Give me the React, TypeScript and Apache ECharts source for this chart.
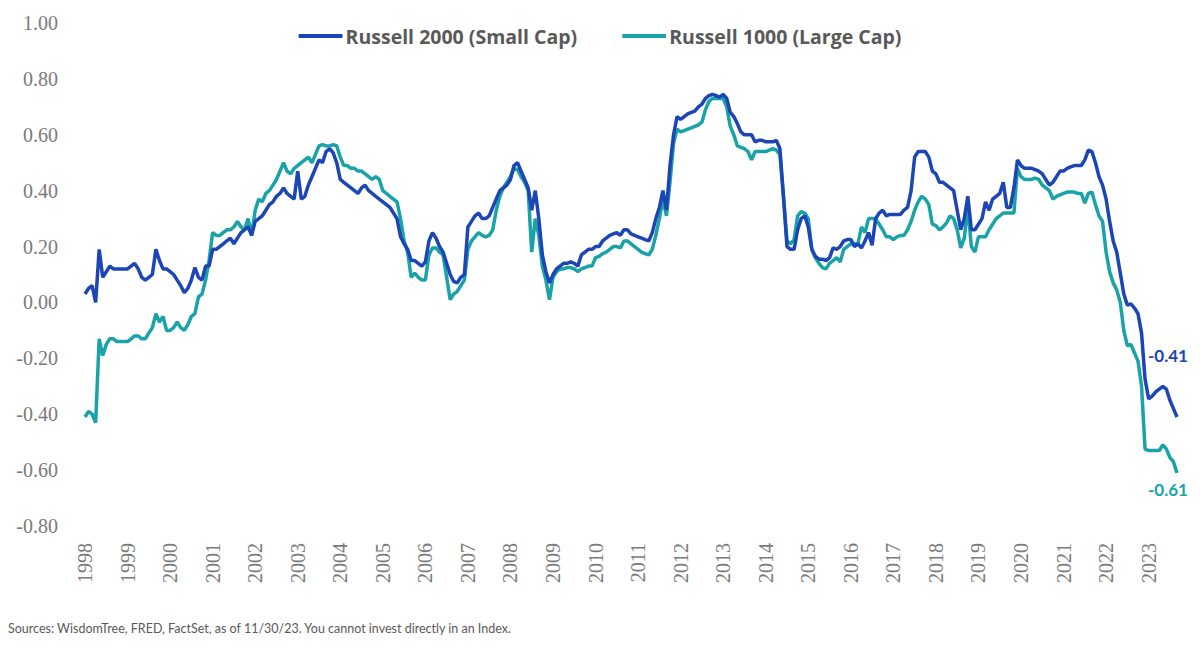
import React, { useEffect, useRef } from 'react';
import * as echarts from 'echarts';

// rolling correlation, monthly, Jan 1998 – Sep 2023
const r2000 = [
  0.03, 0.05, 0.06, 0.0, 0.19, 0.09, 0.11, 0.13, 0.12, 0.12, 0.12, 0.12,
  0.12, 0.13, 0.14, 0.12, 0.09, 0.08, 0.09, 0.1, 0.19, 0.15, 0.12, 0.12,
  0.11, 0.1, 0.08, 0.06, 0.035, 0.05, 0.08, 0.125, 0.09, 0.08, 0.13, 0.13,
  0.19, 0.19, 0.2, 0.21, 0.22, 0.23, 0.21, 0.23, 0.25, 0.26, 0.27, 0.24,
  0.29, 0.3, 0.31, 0.33, 0.35, 0.36, 0.38, 0.39, 0.41, 0.39, 0.38, 0.37,
  0.47, 0.37, 0.38, 0.42, 0.45, 0.48, 0.51, 0.5, 0.54, 0.55, 0.535, 0.5,
  0.44, 0.43, 0.42, 0.41, 0.4, 0.39, 0.41, 0.42, 0.4, 0.39, 0.38, 0.37,
  0.36, 0.35, 0.34, 0.32, 0.3, 0.235, 0.21, 0.19, 0.15, 0.15, 0.14, 0.13,
  0.145, 0.22, 0.25, 0.23, 0.2, 0.18, 0.14, 0.1, 0.075, 0.07, 0.09, 0.1,
  0.27, 0.29, 0.31, 0.32, 0.3, 0.3, 0.31, 0.34, 0.37, 0.4, 0.41, 0.42,
  0.44, 0.49, 0.5, 0.47, 0.44, 0.41, 0.33, 0.4, 0.3, 0.17, 0.11, 0.07,
  0.1, 0.12, 0.13, 0.14, 0.14, 0.145, 0.14, 0.13, 0.17, 0.18, 0.19, 0.19,
  0.2, 0.2, 0.22, 0.23, 0.24, 0.245, 0.25, 0.24, 0.26, 0.26, 0.245, 0.24,
  0.235, 0.23, 0.225, 0.22, 0.25, 0.3, 0.34, 0.4, 0.33, 0.49, 0.6, 0.665,
  0.655, 0.665, 0.675, 0.68, 0.685, 0.7, 0.71, 0.73, 0.74, 0.745, 0.74, 0.735,
  0.745, 0.73, 0.68, 0.665, 0.64, 0.61, 0.6, 0.6, 0.6, 0.575, 0.58, 0.58,
  0.575, 0.575, 0.575, 0.58, 0.55, 0.38, 0.2, 0.19, 0.19, 0.26, 0.3, 0.31,
  0.27, 0.19, 0.165, 0.155, 0.155, 0.15, 0.16, 0.195, 0.19, 0.2, 0.22, 0.225,
  0.225, 0.2, 0.21, 0.195, 0.22, 0.25, 0.205, 0.3, 0.32, 0.33, 0.31, 0.315,
  0.315, 0.315, 0.315, 0.33, 0.34, 0.4, 0.52, 0.54, 0.54, 0.54, 0.52, 0.47,
  0.46, 0.43, 0.43, 0.42, 0.41, 0.4, 0.33, 0.26, 0.3, 0.38, 0.26, 0.26,
  0.28, 0.3, 0.36, 0.33, 0.37, 0.38, 0.39, 0.43, 0.34, 0.34, 0.41, 0.51,
  0.49, 0.48, 0.48, 0.48, 0.475, 0.47, 0.46, 0.44, 0.42, 0.43, 0.45, 0.47,
  0.47, 0.48, 0.485, 0.49, 0.49, 0.49, 0.51, 0.545, 0.54, 0.5, 0.45, 0.42,
  0.37, 0.29, 0.22, 0.18, 0.105, 0.03, -0.01, -0.005, -0.02, -0.04, -0.11, -0.275,
  -0.345, -0.335, -0.32, -0.31, -0.3, -0.31, -0.35, -0.38, -0.41,
];

const r1000 = [
  -0.41, -0.39, -0.4, -0.43, -0.13, -0.19, -0.15, -0.13, -0.13, -0.14, -0.14, -0.14,
  -0.14, -0.13, -0.12, -0.12, -0.13, -0.13, -0.11, -0.09, -0.04, -0.07, -0.05, -0.1,
  -0.1, -0.09, -0.07, -0.09, -0.1, -0.08, -0.05, -0.04, 0.02, 0.03, 0.08, 0.15,
  0.25, 0.24, 0.24, 0.25, 0.26, 0.26, 0.27, 0.29, 0.27, 0.26, 0.3, 0.24,
  0.33, 0.37, 0.36, 0.39, 0.4, 0.42, 0.44, 0.47, 0.5, 0.47, 0.46, 0.48,
  0.49, 0.5, 0.51, 0.52, 0.5, 0.53, 0.56, 0.565, 0.56, 0.56, 0.565, 0.56,
  0.52, 0.49, 0.49, 0.48, 0.48, 0.47, 0.47, 0.46, 0.45, 0.44, 0.45, 0.44,
  0.4, 0.39, 0.38, 0.37, 0.36, 0.3, 0.22, 0.18, 0.09, 0.105, 0.09, 0.08,
  0.08, 0.17, 0.195, 0.195, 0.18, 0.17, 0.09, 0.01, 0.03, 0.04, 0.06, 0.08,
  0.19, 0.22, 0.235, 0.25, 0.24, 0.235, 0.24, 0.26, 0.33, 0.38, 0.41, 0.43,
  0.45, 0.48, 0.475, 0.45, 0.43, 0.4, 0.18, 0.3, 0.24, 0.13, 0.08, 0.01,
  0.09, 0.11, 0.12, 0.12, 0.125, 0.125, 0.12, 0.11, 0.12, 0.125, 0.13, 0.13,
  0.16, 0.165, 0.175, 0.18, 0.19, 0.2, 0.2, 0.195, 0.22, 0.22, 0.21, 0.2,
  0.19, 0.18, 0.175, 0.17, 0.19, 0.24, 0.3, 0.37, 0.31, 0.43, 0.57, 0.62,
  0.61, 0.615, 0.62, 0.625, 0.63, 0.635, 0.645, 0.69, 0.72, 0.73, 0.73, 0.73,
  0.73, 0.7, 0.63, 0.6, 0.56, 0.555, 0.55, 0.54, 0.51, 0.54, 0.54, 0.54,
  0.54, 0.545, 0.55, 0.545, 0.53, 0.38, 0.22, 0.21, 0.225, 0.31, 0.325, 0.32,
  0.3, 0.19, 0.16, 0.14, 0.125, 0.12, 0.14, 0.15, 0.16, 0.145, 0.19, 0.2,
  0.21, 0.21, 0.21, 0.27, 0.25, 0.3, 0.3, 0.3, 0.28, 0.26, 0.235, 0.235,
  0.225, 0.235, 0.24, 0.24, 0.26, 0.29, 0.33, 0.36, 0.38, 0.37, 0.35, 0.28,
  0.275, 0.26, 0.27, 0.285, 0.31, 0.3, 0.26, 0.195, 0.23, 0.34, 0.2, 0.18,
  0.235, 0.235, 0.235, 0.26, 0.28, 0.3, 0.31, 0.32, 0.32, 0.32, 0.32, 0.48,
  0.45, 0.44, 0.44, 0.44, 0.445, 0.44, 0.42, 0.41, 0.4, 0.37, 0.38, 0.385,
  0.39, 0.395, 0.395, 0.395, 0.39, 0.39, 0.355, 0.39, 0.395, 0.35, 0.31, 0.29,
  0.18, 0.11, 0.07, 0.045, 0.0, -0.1, -0.155, -0.15, -0.18, -0.21, -0.3, -0.525,
  -0.53, -0.53, -0.53, -0.53, -0.51, -0.525, -0.555, -0.57, -0.61,
];

const startYear = 1998;
const categories = r2000.map(
  (_, i) => `${startYear + Math.floor(i / 12)}-${String((i % 12) + 1).padStart(2, '0')}`
);

const seriesNames = ['Russell 2000 (Small Cap)', 'Russell 1000 (Large Cap)'];
const BLUE = '#1c45b5';
const TEAL = '#19a3a8';
const GREY = '#7a7a7a';
const FONT = 'Lato, "Noto Sans", sans-serif';
const AXIS_FONT = '"Liberation Serif", "DejaVu Serif", serif';

const App = () => {
  const chartRef = useRef<HTMLDivElement>(null);

  useEffect(() => {
    if (!chartRef.current) return;
    const chart = echarts.init(chartRef.current, null, { renderer: 'svg' });

    const endLabel = (color: string, offset: number[]) => ({
      show: true,
      formatter: (p: any) => Number(p.value).toFixed(2),
      color,
      fontFamily: FONT,
      fontWeight: 'bold',
      fontSize: 17,
      offset,
    });

    chart.setOption({
      animation: false,
      textStyle: { fontFamily: FONT },
      title: {
        text: 'Sources: WisdomTree, FRED, FactSet, as of 11/30/23. You cannot invest directly in an Index.',
        left: 8,
        top: 622,
        padding: 0,
        textStyle: { fontSize: 12.5, fontWeight: 'normal', color: '#595959', fontFamily: FONT },
      },
      legend: {
        top: 21,
        left: 'center',
        itemGap: 45,
        itemWidth: 44,
        itemHeight: 4,
        icon: 'roundRect',
        textStyle: {
          fontSize: 19.5,
          fontWeight: 'bold',
          color: '#595959',
          fontFamily: '"Open Sans", Lato, sans-serif',
          padding: [0, 0, 0, -2],
        },
        data: seriesNames,
      },
      grid: { left: 85, right: 23, top: 23, bottom: 123, containLabel: false },
      xAxis: {
        type: 'category',
        data: categories,
        boundaryGap: false,
        axisLine: { show: false },
        axisTick: { show: false },
        splitLine: { show: false },
        axisLabel: {
          interval: 11,
          rotate: 90,
          margin: 17,
          fontSize: 20,
          color: GREY,
          fontFamily: AXIS_FONT,
          formatter: (v: string) => v.slice(0, 4),
        },
      },
      yAxis: {
        type: 'value',
        min: -0.8,
        max: 1.0,
        interval: 0.2,
        axisLine: { show: false },
        axisTick: { show: false },
        splitLine: { show: false },
        axisLabel: {
          margin: 27,
          fontSize: 20,
          color: GREY,
          fontFamily: AXIS_FONT,
          formatter: (v: number) => v.toFixed(2),
        },
      },
      series: [
        {
          name: seriesNames[0],
          type: 'line',
          data: r2000,
          showSymbol: false,
          symbol: 'none',
          color: BLUE,
          lineStyle: { width: 3.5, color: BLUE },
          endLabel: endLabel(BLUE, [-37, -62]),
          z: 3,
        },
        {
          name: seriesNames[1],
          type: 'line',
          data: r1000,
          showSymbol: false,
          symbol: 'none',
          color: TEAL,
          lineStyle: { width: 3.5, color: TEAL },
          endLabel: endLabel(TEAL, [-37, 17]),
          z: 2,
        },
      ],
    });

    return () => {
      chart.dispose();
    };
  }, []);

  return (
    <div
      ref={chartRef}
      style={{ position: 'fixed', left: 0, top: 0, width: '1200px', height: '649px', background: '#fff' }}
    />
  );
};

export default App;
